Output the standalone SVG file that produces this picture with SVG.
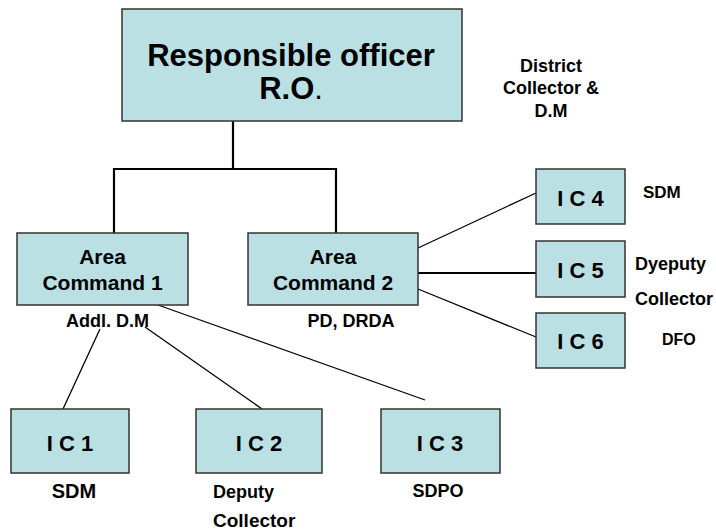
<svg xmlns="http://www.w3.org/2000/svg" width="716" height="531" viewBox="0 0 716 531">
  <style>
    .box { fill: #bbe0e3; stroke: #333333; stroke-width: 1.5; }
    .t { font-family: "Liberation Sans", Arial, sans-serif; font-weight: bold; fill: #000000; }
    .c { text-anchor: middle; }
    .tree { fill: none; stroke: #000000; stroke-width: 2.2; }
    .link { fill: none; stroke: #000000; stroke-width: 1.3; }
  </style>
  <rect width="716" height="531" fill="#ffffff"/>

  <!-- connectors -->
  <g id="connectors">
    <path class="tree" d="M233,121 V169 M114,169 H336 M114,168 V233 M336,168 V233"/>
    <line class="link" x1="418" y1="248" x2="536" y2="193"/>
    <line class="tree" x1="418" y1="273" x2="536" y2="273" style="stroke-width:2"/>
    <line class="link" x1="418" y1="289" x2="536" y2="337"/>
    <line class="link" x1="100" y1="329" x2="63" y2="409"/>
    <line class="link" x1="145" y1="327" x2="262" y2="409"/>
    <line class="link" x1="158" y1="305" x2="425" y2="400"/>
  </g>

  <!-- responsible officer -->
  <g id="ro">
    <rect class="box" x="122" y="9" width="340" height="112"/>
    <text class="t c" x="291" y="66" font-size="31">Responsible officer</text>
    <text class="t c" x="291" y="99" font-size="31">R.O<tspan font-weight="normal">.</tspan></text>
  </g>
  <g id="ro-label">
    <text class="t c" x="551" y="72" font-size="18">District</text>
    <text class="t c" x="551" y="94" font-size="18">Collector &amp;</text>
    <text class="t c" x="551" y="117" font-size="18">D.M</text>
  </g>

  <!-- area commands -->
  <g id="ac1">
    <rect class="box" x="17" y="233" width="171" height="72"/>
    <text class="t c" x="102.5" y="264" font-size="21">Area</text>
    <text class="t c" x="102.5" y="290" font-size="21">Command 1</text>
    <text class="t" x="66" y="327" font-size="18">Addl. D.M</text>
  </g>
  <g id="ac2">
    <rect class="box" x="248" y="233" width="170" height="72"/>
    <text class="t c" x="333" y="264" font-size="21">Area</text>
    <text class="t c" x="333" y="290" font-size="21">Command 2</text>
    <text class="t c" x="351" y="327" font-size="18">PD, DRDA</text>
  </g>

  <!-- incident commands on the right -->
  <g id="ic4">
    <rect class="box" x="536" y="169" width="89" height="55"/>
    <text class="t c" x="580.5" y="206" font-size="22">I C 4</text>
    <text class="t" x="643" y="198" font-size="17">SDM</text>
  </g>
  <g id="ic5">
    <rect class="box" x="536" y="241" width="89" height="56"/>
    <text class="t c" x="580.5" y="278" font-size="22">I C 5</text>
    <text class="t" x="635" y="270" font-size="18">Dyeputy</text>
    <text class="t" x="635" y="305" font-size="18">Collector</text>
  </g>
  <g id="ic6">
    <rect class="box" x="536" y="313" width="89" height="55"/>
    <text class="t c" x="580.5" y="349" font-size="22">I C 6</text>
    <text class="t" x="662" y="345" font-size="16">DFO</text>
  </g>

  <!-- incident commands along the bottom -->
  <g id="ic1">
    <rect class="box" x="11" y="409" width="118" height="64"/>
    <text class="t c" x="70" y="451" font-size="22">I C 1</text>
    <text class="t c" x="74" y="498" font-size="20">SDM</text>
  </g>
  <g id="ic2">
    <rect class="box" x="196" y="409" width="126" height="64"/>
    <text class="t c" x="259" y="451" font-size="22">I C 2</text>
    <text class="t" x="213" y="498" font-size="18">Deputy</text>
    <text class="t" x="213" y="527" font-size="19">Collector</text>
  </g>
  <g id="ic3">
    <rect class="box" x="381" y="409" width="119" height="64"/>
    <text class="t c" x="440" y="451" font-size="22">I C 3</text>
    <text class="t c" x="438" y="497" font-size="18">SDPO</text>
  </g>
</svg>
